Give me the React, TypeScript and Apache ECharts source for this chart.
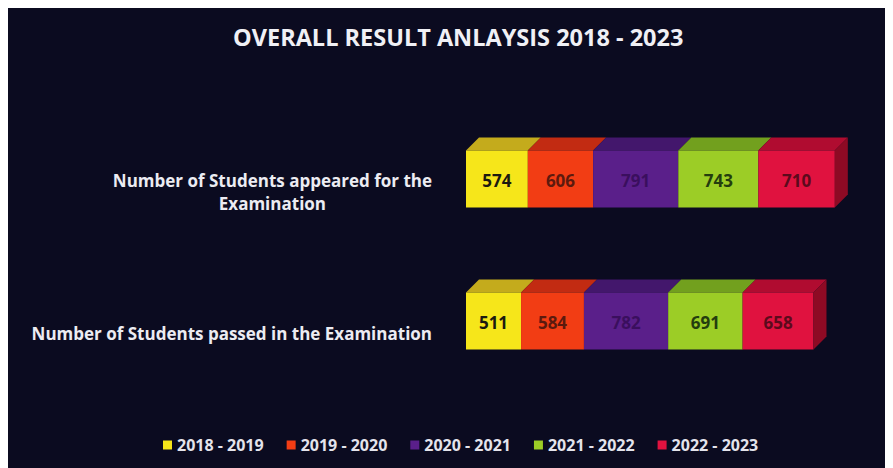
import React, { useEffect, useRef } from "react";
import * as echarts from "echarts";

const categories = [
  "Number of Students appeared for the Examination",
  "Number of Students passed in the Examination",
];
const years = ["2018 - 2019", "2019 - 2020", "2020 - 2021", "2021 - 2022", "2022 - 2023"];
const appeared = [574, 606, 791, 743, 710];
const passed = [511, 584, 782, 691, 658];
const title = "OVERALL RESULT ANLAYSIS 2018 - 2023";

const frontColors = ["#f6e61a", "#f23d14", "#5a1f8a", "#9ccd26", "#e0123f"];
const topColors = ["#c4ab1c", "#c22b12", "#43176c", "#72a01e", "#b00c30"];
const sideColors = ["#a08a14", "#9a200c", "#331055", "#5a8016", "#8e0a24"];
const labelColors = ["#1c1a10", "#5c1a0e", "#3a0f5e", "#243d0e", "#5c0a1c"];

const FONT = '"Open Sans", "Noto Sans", sans-serif';

export default function App() {
  const ref = useRef<HTMLDivElement>(null);
  useEffect(() => {
    document.body.style.overflow = "hidden";
    const chart = echarts.init(ref.current!, null, { renderer: "svg" });
    const rows = [appeared, passed];

    const series = years.map((year, i) => {
      const data = rows.map((row, c) => {
        let start = 0;
        for (let k = 0; k < i; k++) start += row[k];
        return [start, start + row[i], c, row[i], i === row.length - 1 ? 1 : 0];
      });
      return {
        type: "custom",
        name: year,
        itemStyle: { color: frontColors[i] },
        encode: { x: [0, 1], y: 2 },
        data,
        renderItem: (params: any, api: any) => {
          const s = api.value(0);
          const e = api.value(1);
          const c = api.value(2);
          const v = api.value(3);
          const last = api.value(4);
          const a = api.coord([s, c]);
          const b = api.coord([e, c]);
          const h = 57;
          const dx = 13;
          const dy = 13;
          const x0 = a[0];
          const x1 = b[0];
          const yT = a[1] - h / 2;
          const yB = a[1] + h / 2;
          const children: any[] = [
            {
              type: "polygon",
              shape: { points: [[x0, yT], [x1, yT], [x1 + dx, yT - dy], [x0 + dx, yT - dy]] },
              style: { fill: topColors[i] },
            },
            {
              type: "rect",
              shape: { x: x0, y: yT, width: x1 - x0, height: h },
              style: { fill: frontColors[i] },
            },
            {
              type: "text",
              style: {
                text: String(v),
                x: (x0 + x1) / 2,
                y: a[1] + 1,
                align: "center",
                verticalAlign: "middle",
                fill: labelColors[i],
                fontSize: 17,
                fontWeight: "bold",
                fontFamily: FONT,
              },
            },
          ];
          if (last) {
            children.push({
              type: "polygon",
              shape: { points: [[x1, yT], [x1 + dx, yT - dy], [x1 + dx, yB - dy], [x1, yB]] },
              style: { fill: sideColors[i] },
            });
          }
          return { type: "group", children };
        },
      };
    });

    chart.setOption({
      animation: false,
      backgroundColor: "#0b0b20",
      title: {
        text: title,
        left: 220,
        top: 12,
        textStyle: { color: "#f0f0f5", fontSize: 23.5, fontWeight: "bold", fontFamily: FONT },
      },
      legend: {
        data: years,
        left: 150,
        top: 424,
        icon: "rect",
        itemWidth: 9,
        itemHeight: 9,
        itemGap: 23,
        textStyle: { color: "#e4e4ec", fontSize: 16, fontWeight: "bold", fontFamily: FONT },
      },
      grid: { left: 458, right: 50, top: 100, height: 284 },
      xAxis: { type: "value", min: 0, max: 3500, show: false },
      yAxis: {
        type: "category",
        data: categories,
        inverse: true,
        axisLine: { show: false },
        axisTick: { show: false },
        splitLine: { show: false },
        axisLabel: {
          margin: 34,
          padding: [25, 0, 0, 0],
          formatter: (val: string) => {
            if (val === categories[0]) {
              return "{a|Number of Students appeared for the}\n{a|Examination}";
            }
            return "{a|" + val + "}";
          },
          rich: {
            a: {
              align: "center",
              color: "#ececf2",
              fontSize: 17,
              fontWeight: "bold",
              fontFamily: FONT,
              lineHeight: 23,
            },
          },
        },
      },
      series,
    });
    return () => chart.dispose();
  }, []);
  return <div ref={ref} style={{ width: 885, height: 460 }} />;
}
